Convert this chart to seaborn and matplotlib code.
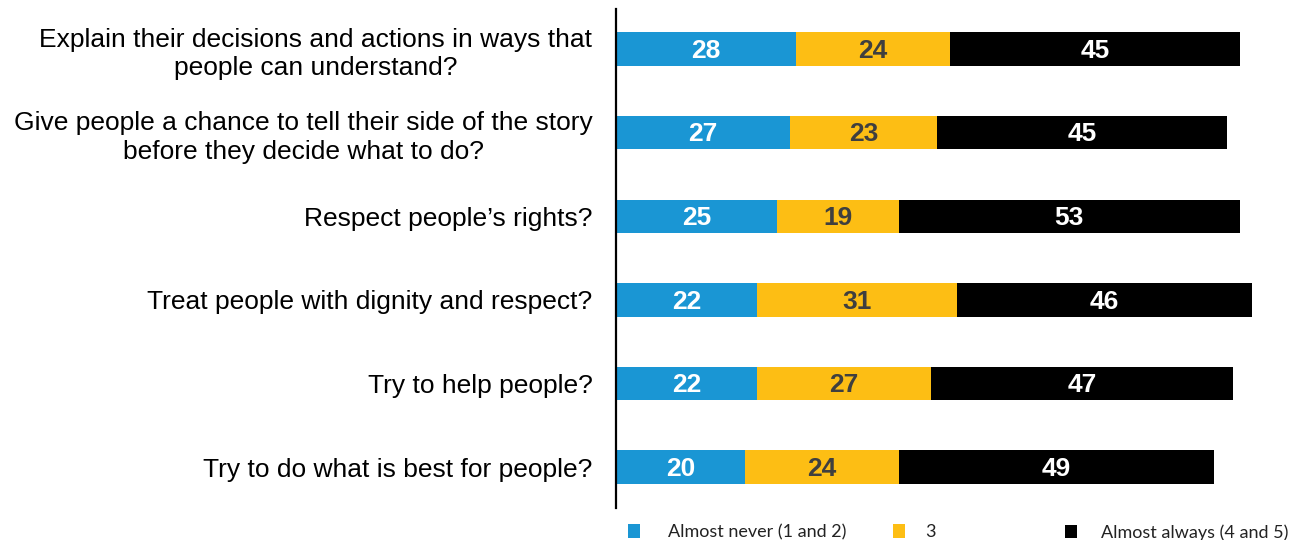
import matplotlib
matplotlib.use("Agg")
import matplotlib.pyplot as plt
import seaborn as sns
import pandas as pd
import numpy as np
from matplotlib.patches import Patch

categories = [
    "Explain their decisions and actions in ways that\npeople can understand?",
    "Give people a chance to tell their side of the story\nbefore they decide what to do?",
    "Respect people\u2019s rights?",
    "Treat people with dignity and respect?",
    "Try to help people?",
    "Try to do what is best for people?",
]
almost_never = [28, 27, 25, 22, 22, 20]
three = [24, 23, 19, 31, 27, 24]
almost_always = [45, 45, 53, 46, 47, 49]
series_names = ["Almost never (1 and 2)", "3", "Almost always (4 and 5)"]
colors = ["#1a96d4", "#fdbe14", "#000000"]
text_colors = ["white", "#3f3f3f", "white"]

sns.set_theme(style="white")
plt.rcParams["font.family"] = ["Liberation Sans", "DejaVu Sans"]

df = pd.DataFrame({"cat": categories, "a": almost_never, "b": three, "c": almost_always})
df["cum1"] = df["a"]
df["cum2"] = df["a"] + df["b"]
df["cum3"] = df["a"] + df["b"] + df["c"]

fig = plt.figure(figsize=(13.13, 5.40), dpi=100)
ax = fig.add_axes([616 / 1313, 32 / 540, (1300 - 616) / 1313, (531 - 32) / 540])

for col, c in zip(["cum3", "cum2", "cum1"], colors[::-1]):
    sns.barplot(data=df, x=col, y="cat", color=c, width=0.4, ax=ax,
                saturation=1, linewidth=0, orient="h")

vals = [almost_never, three, almost_always]
for i in range(len(categories)):
    left = 0
    for s in range(3):
        v = vals[s][i]
        ax.text(left + v / 2, i + 0.02, str(v), ha="center", va="center",
                fontsize=19, fontweight="bold", color=text_colors[s])
        left += v

ax.set_xlim(0, 106.4)
ax.set_ylim(5.49, -0.48)
ax.set_xlabel("")
ax.set_ylabel("")
ax.set_xticks([])
for sp in ["top", "right", "bottom"]:
    ax.spines[sp].set_visible(False)
ax.spines["left"].set_color("black")
ax.spines["left"].set_linewidth(1.6)
ax.tick_params(axis="y", length=0, pad=17, labelsize=19, labelcolor="black")
for lbl in ax.get_yticklabels():
    lbl.set_multialignment("center")
    lbl.set_linespacing(1.25)

# legend entries placed individually
fs = 13
fpx = fs * 100 / 72
leg_x = [628 / 1313, 893 / 1313, 1065 / 1313]
pads = [28, 20, 24]
for name, c, x, p in zip(series_names, colors, leg_x, pads):
    h = Patch(facecolor=c, edgecolor="none")
    lg = fig.legend(handles=[h], labels=[name], loc="center left",
                    bbox_to_anchor=(x, 0.014), frameon=False,
                    prop={"family": "Lato", "size": fs},
                    handlelength=12 / fpx, handleheight=14 / fpx,
                    handletextpad=p / fpx,
                    borderaxespad=0, borderpad=0)
    for t in lg.get_texts():
        t.set_color("#222222")

fig.savefig("out.png", dpi=100)
